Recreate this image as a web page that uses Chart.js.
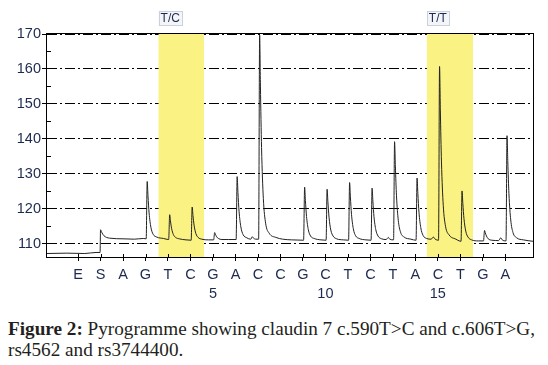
<!DOCTYPE html>
<html>
<head>
<meta charset="utf-8">
<script src="https://cdn.jsdelivr.net/npm/chart.js@4.4.0/dist/chart.umd.min.js"></script>
<style>
body { margin:0; background:#fff; width:548px; height:365px; overflow:hidden; position:relative; }
#wrap { position:absolute; left:0; top:0; width:548px; height:300px; }
.caption { position:absolute; left:8px; top:318px; font-family:'Liberation Serif', serif; font-size:19.2px; line-height:21px; color:#231f20; white-space:nowrap; }
.caption b { font-weight:bold; }
</style>
</head>
<body>
<div id="wrap"><canvas id="pyro" width="548" height="300"></canvas></div>
<div class="caption"><b>Figure 2:</b> Pyrogramme showing claudin 7 c.590T&gt;C and c.606T&gt;G,<br>rs4562 and rs3744400.</div>
<script>
// dispensation order and numbering (numbering starts after E, S)
var dispensation = ['E','S','A','G','T','C','G','A','C','C','G','C','T','C','T','A','C','T','G','A'];
var dispNumbers = ['','','','','','','5','','','','','10','','','','','15','','',''];
var yTicks = [110, 120, 130, 140, 150, 160, 170];
var yMinorTicks = [115, 125, 135, 145, 155, 165];
var bands = [[3.58, 5.6], [15.51, 17.56]];
var bandLabels = ['T/C', 'T/T'];

// signal trace: [dispensation position, light units]
var trace = [
  [-1.38,107.2],[-0.5,107.3],[0.3,107.2],[0.8,107.5],[0.98,107.5],
  [1.0,114.0],[1.05,113.3],[1.15,112.3],[1.4,111.6],[2.0,111.4],[2.5,111.3],[2.9,111.5],
  [3.03,111.4],[3.075,127.8],[3.11,123.7],[3.16,118.8],[3.24,114.7],[3.34,112.7],[3.5,111.9],[3.8,111.5],
  [4.03,111.2],[4.075,118.3],[4.11,116.5],[4.16,114.4],[4.24,112.6],[4.34,111.8],[4.5,111.4],[4.8,111.1],
  [5.03,111.0],[5.075,120.5],[5.11,118.1],[5.16,115.3],[5.24,112.9],[5.34,111.8],[5.5,111.3],[5.8,111.1],
  [6.03,111.1],[6.075,113.2],[6.11,112.7],[6.16,112.0],[6.24,111.5],[6.4,111.2],[6.7,111.2],
  [7.03,111.2],[7.075,129.2],[7.11,124.7],[7.16,119.3],[7.24,114.8],[7.34,112.6],[7.5,111.7],
  [7.68,111.3],[7.75,112.0],[7.8,111.6],[7.9,111.3],
  [8.03,111.3],[8.075,169.7],[8.11,155.1],[8.16,137.5],[8.24,122.9],[8.34,115.9],[8.5,113.0],[8.8,111.8],[9.1,111.3],[9.5,111.1],
  [10.03,111.0],[10.075,126.2],[10.11,122.4],[10.16,117.8],[10.24,114.0],[10.34,112.2],[10.5,111.5],[10.8,111.1],
  [11.03,111.0],[11.075,125.6],[11.11,122.0],[11.16,117.6],[11.24,113.9],[11.34,112.2],[11.5,111.4],[11.8,111.1],
  [12.03,111.0],[12.075,127.5],[12.11,123.4],[12.16,118.4],[12.24,114.3],[12.34,112.3],[12.5,111.5],[12.8,111.1],
  [13.03,111.0],[13.075,125.9],[13.11,122.2],[13.16,117.7],[13.24,114.0],[13.34,112.2],[13.5,111.4],
  [13.7,111.2],[13.8,111.8],[13.86,111.3],
  [14.03,111.1],[14.075,139.2],[14.11,132.2],[14.16,123.7],[14.24,116.7],[14.34,113.3],[14.5,111.9],[14.8,111.3],
  [15.03,111.0],[15.075,128.8],[15.11,124.4],[15.16,119.0],[15.24,114.6],[15.34,112.4],[15.5,111.5],
  [15.7,111.3],[15.8,111.9],[15.88,111.3],
  [16.03,111.0],[16.075,160.7],[16.11,148.3],[16.16,133.4],[16.24,120.9],[16.34,115.0],[16.5,112.5],[16.8,111.3],[16.95,110.8],
  [17.03,110.7],[17.075,125.1],[17.11,121.5],[17.16,117.2],[17.24,113.6],[17.34,111.9],[17.5,111.1],[17.8,110.8],
  [18.03,110.8],[18.075,113.8],[18.11,113.1],[18.16,112.2],[18.24,111.4],[18.4,111.0],[18.7,110.9],
  [18.8,111.7],[18.86,111.1],
  [19.03,110.8],[19.075,140.9],[19.11,133.4],[19.16,124.3],[19.24,116.8],[19.34,113.2],[19.5,111.7],[19.8,111.1],
  [20.23,110.7]
];

var labelColor = '#1d2a4f';
var tickFont = { family: 'Liberation Sans, Arial, sans-serif', size: 14.5, lineHeight: 1.3 };

var decor = {
  id: 'decor',
  beforeDatasetsDraw: function(chart) {
    var ctx = chart.ctx, a = chart.chartArea, xs = chart.scales.x;
    ctx.save();
    ctx.fillStyle = '#faf282';
    bands.forEach(function(b) {
      var x1 = xs.getPixelForValue(b[0]), x2 = xs.getPixelForValue(b[1]);
      ctx.fillRect(x1, a.top, x2 - x1, a.bottom - a.top);
    });
    ctx.restore();
  },
  afterDraw: function(chart) {
    var ctx = chart.ctx, a = chart.chartArea, xs = chart.scales.x, ys = chart.scales.y;
    ctx.save();
    ctx.strokeStyle = '#000';
    ctx.lineWidth = 1;
    ctx.strokeRect(a.left - 0.5, a.top - 0.5, a.right - a.left + 1, a.bottom - a.top + 1);
    // minor y ticks and inner part of x ticks
    ctx.beginPath();
    yMinorTicks.forEach(function(v) {
      var y = Math.round(ys.getPixelForValue(v)) + 0.5;
      ctx.moveTo(a.left - 1, y); ctx.lineTo(a.left + 4, y);
    });
    dispensation.forEach(function(d, i) {
      var x = Math.round(xs.getPixelForValue(i)) + 0.5;
      ctx.moveTo(x, a.bottom - 3); ctx.lineTo(x, a.bottom);
    });
    ctx.stroke();
    // genotype labels above the bands
    ctx.font = '12px Liberation Sans, Arial, sans-serif';
    ctx.textBaseline = 'middle';
    bands.forEach(function(b, i) {
      var x1 = xs.getPixelForValue(b[0]);
      var w = ctx.measureText(bandLabels[i]).width + 4;
      ctx.fillStyle = '#f3f5f8';
      ctx.fillRect(x1, 11, w, 15);
      ctx.strokeStyle = '#c9d1dc';
      ctx.strokeRect(Math.round(x1) + 0.5, 11.5, Math.round(w), 14);
      ctx.fillStyle = labelColor;
      ctx.fillText(bandLabels[i], x1 + 2, 19);
    });
    ctx.restore();
  }
};

new Chart(document.getElementById('pyro').getContext('2d'), {
  type: 'line',
  data: {
    datasets: [{
      data: trace.map(function(p) { return { x: p[0], y: p[1] }; }),
      borderColor: '#222',
      borderWidth: 1,
      pointRadius: 0,
      cubicInterpolationMode: 'monotone',
      fill: false
    }]
  },
  plugins: [decor],
  options: {
    responsive: false,
    devicePixelRatio: 1,
    animation: false,
    layout: { padding: { top: 34, right: 15, left: 0, bottom: 0 } },
    plugins: { legend: { display: false }, tooltip: { enabled: false } },
    scales: {
      x: {
        type: 'linear',
        min: -1.38,
        max: 20.23,
        afterBuildTicks: function(scale) {
          scale.ticks = dispensation.map(function(d, i) { return { value: i }; });
        },
        afterFit: function(scale) { scale.height = 43; },
        border: { display: false },
        grid: { drawOnChartArea: false, drawTicks: true, tickLength: 4, tickColor: '#000' },
        ticks: {
          autoSkip: false,
          maxRotation: 0,
          padding: 5,
          color: labelColor,
          font: tickFont,
          callback: function(v, i) {
            return dispNumbers[v] ? [dispensation[v], dispNumbers[v]] : dispensation[v];
          }
        }
      },
      y: {
        min: 106.2,
        max: 170,
        afterBuildTicks: function(scale) {
          scale.ticks = yTicks.map(function(v) { return { value: v }; });
        },
        afterFit: function(scale) { scale.width = 47; },
        border: { display: false, dash: [10, 3, 2, 3] },
        grid: { color: '#000', lineWidth: 1, tickLength: 5, tickColor: '#000' },
        ticks: { padding: 1, color: labelColor, font: tickFont }
      }
    }
  }
});
</script>
</body>
</html>
